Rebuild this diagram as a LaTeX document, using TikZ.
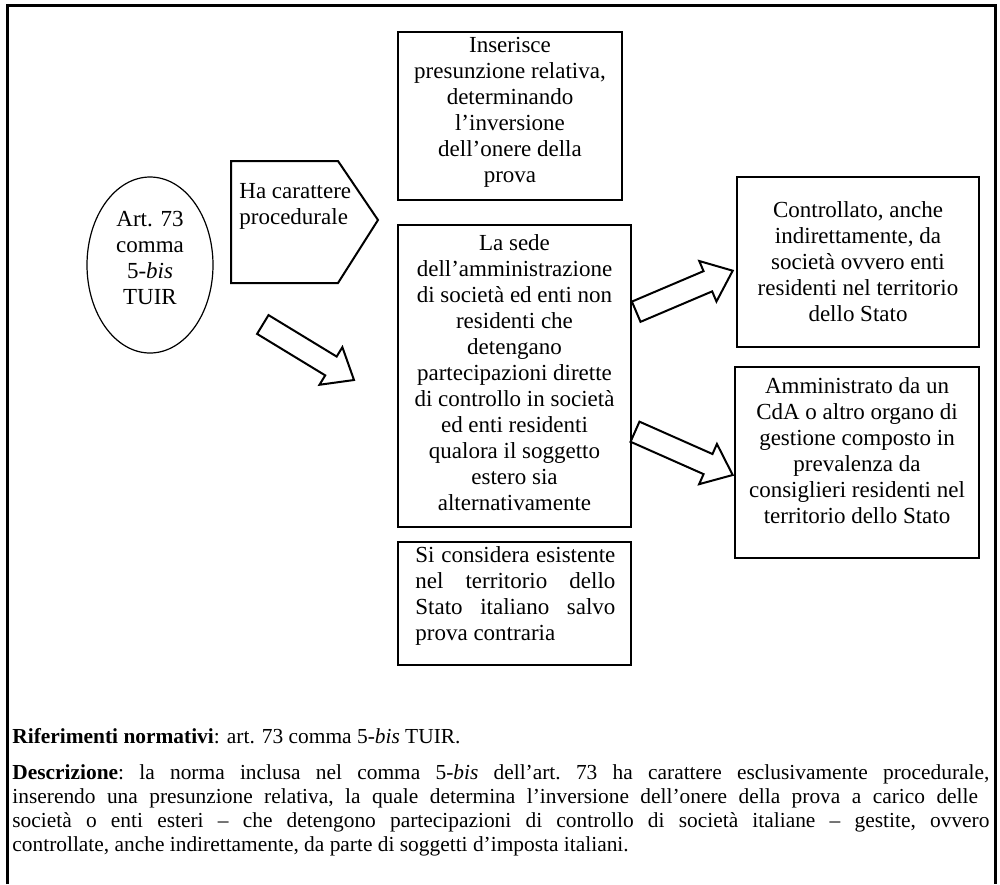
\documentclass[tikz,border=0pt]{standalone}
\usepackage{fontspec}
\setmainfont{Liberation Serif}
\usetikzlibrary{shapes.geometric,calc}
\newcommand\boxfont{\fontsize{11.5}{13}\selectfont}
\newcommand\descfont{\fontsize{10.7}{12}\selectfont}
\newdimen\skdim
\newcommand\sk{}
% #1 = number of gaps, #2 = words separated by \sk
\newcommand\jline[2]{%
  \setbox0=\hbox{\def\sk{}#2}%
  \skdim=488.5pt \advance\skdim by -\wd0 \divide\skdim by #1\relax
  \hbox{\def\sk{\kern\skdim}#2}}
\newcommand\blockarr[2]{%
  \coordinate (hb) at ($(#2)!13.5pt!(#1)$);
  \draw[blockarrow] ($(#1)!5.5pt!90:(#2)$) -- ($(hb)!5.5pt!90:(#2)$) -- ($(hb)!11pt!90:(#2)$)
    -- (#2) -- ($(hb)!11pt!-90:(#2)$) -- ($(hb)!5.5pt!-90:(#2)$) -- ($(#1)!5.5pt!-90:(#2)$) -- cycle;}
\tikzset{
  boxstyle/.style={draw, line width=1pt, rectangle, inner sep=0pt},
  txt/.style={inner sep=0pt, anchor=base, font=\boxfont},
  txtl/.style={inner sep=0pt, anchor=base west, font=\boxfont},
  blockarrow/.style={draw, line width=1pt, line join=miter},
}
\begin{document}
\begin{tikzpicture}[x=0.5pt, y=-0.5pt]
\useasboundingbox (0,0) rectangle (1000,884);
% outer frame
\draw[line width=1.5pt] (7,884) -- (7,5) -- (995,5) -- (995,884);

% ellipse
\node[draw, ellipse, line width=0.6pt, minimum width=63pt, minimum height=88pt, inner sep=0pt] (art) at (150,265) {};
\node[txt] (art-t) at (150,226) {\parbox[t]{60pt}{\centering Art. 73\\comma\\5-\textit{bis}\\TUIR}};

% pentagon
\coordinate (pc-a) at (231,161);
\coordinate (pc-b) at (338,161);
\coordinate (pc-c) at (378,220);
\coordinate (pc-d) at (338,283);
\coordinate (pc-e) at (231,283);
\draw[line width=1pt, line join=miter] (pc-a) -- (pc-b) -- (pc-c) -- (pc-d) -- (pc-e) -- cycle;
\node[txtl] (pc-t) at (239,198) {\parbox[t]{60pt}{\raggedright Ha carattere\\procedurale}};

% boxes
\node[boxstyle, minimum width=112pt, minimum height=84pt] (ins) at (510,116) {};
\node[txt] (ins-t) at (510,52) {\parbox[t]{110pt}{\centering Inserisce\\presunzione relativa,\\determinando\\l’inversione\\dell’onere della\\prova}};

\node[boxstyle, minimum width=116.5pt, minimum height=151pt] (sede) at (514.5,376) {};
\node[txt] (sede-t) at (514.5,250) {\parbox[t]{114pt}{\centering La sede\\dell’amministrazione\\di società ed enti non\\residenti che\\detengano\\partecipazioni dirette\\di controllo in società\\ed enti residenti\\qualora il soggetto\\estero sia\\alternativamente}};

\node[boxstyle, minimum width=116.5pt, minimum height=61.5pt] (cons) at (514.5,603.5) {};
\node[txtl] (cons-t) at (415,562) {\parbox[t]{100pt}{\makebox[100pt][s]{Si considera esistente}\\\makebox[100pt][s]{nel territorio dello}\\\makebox[100pt][s]{Stato italiano salvo}\\prova contraria}};

\node[boxstyle, minimum width=121pt, minimum height=85pt] (ctrl) at (858,262) {};
\node[txt] (ctrl-t) at (858,217) {\parbox[t]{120pt}{\centering Controllato, anche\\indirettamente, da\\società ovvero enti\\residenti nel territorio\\dello Stato}};

\node[boxstyle, minimum width=122pt, minimum height=95.5pt] (amm) at (857,462.5) {};
\node[txt] (amm-t) at (857,393) {\parbox[t]{121pt}{\centering Amministrato da un\\CdA o altro organo di\\gestione composto in\\prevalenza da\\consiglieri residenti nel\\territorio dello Stato}};

% block arrows
\coordinate (a1s) at (262.8,324.5);
\coordinate (a1e) at (354,380);
\coordinate (a2s) at (636.2,311.7);
\coordinate (a2e) at (732.7,270.7);
\coordinate (a3s) at (635,431.7);
\coordinate (a3e) at (732.7,475);
\blockarr{a1s}{a1e}
\blockarr{a2s}{a2e}
\blockarr{a3s}{a3e}

% description
\node[inner sep=0pt, anchor=base west, font=\descfont] (rif) at (12,743) {\textbf{Riferimenti normativi}: art. 73 comma 5-\textit{bis} TUIR.};
\node[inner sep=0pt, anchor=base west, font=\descfont] (desc) at (12,779) {\parbox[t]{488.5pt}{\descfont
\jline{12}{\textbf{Descrizione}:\sk la\sk norma\sk inclusa\sk nel\sk comma\sk 5-\textit{bis}\sk dell’art.\sk 73\sk ha\sk carattere\sk esclusivamente\sk procedurale,}
\jline{14}{inserendo\sk una\sk presunzione\sk relativa,\sk la\sk quale\sk determina\sk l’inversione\sk dell’onere\sk della\sk prova\sk a\sk carico\sk delle}
\jline{15}{società\sk o\sk enti\sk esteri\sk –\sk che\sk detengono\sk partecipazioni\sk di\sk controllo\sk di\sk società\sk italiane\sk –\sk gestite,\sk ovvero}
\hbox{controllate, anche indirettamente, da parte di soggetti d’imposta italiani.}}};
\end{tikzpicture}
\end{document}
